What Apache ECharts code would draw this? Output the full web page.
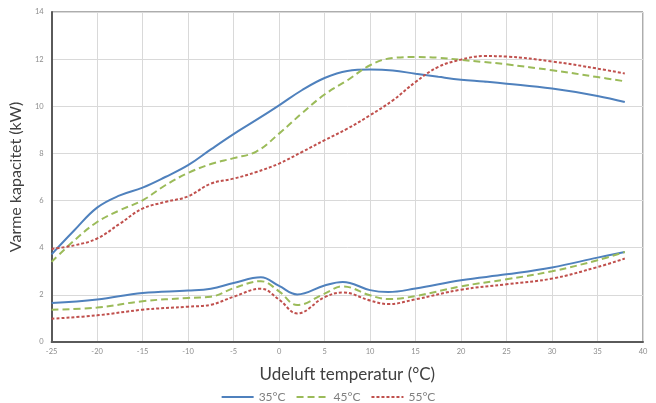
<!DOCTYPE html>
<html>
<head>
<meta charset="utf-8">
<script src="https://cdn.jsdelivr.net/npm/echarts@6/dist/echarts.min.js"></script>
<style>
  html, body { margin: 0; padding: 0; background: #fff; }
  #chart { width: 656px; height: 403px; }
</style>
</head>
<body>
<div id="chart"></div>
<script>
// outdoor temperature points (°C)
const upperTemps = [-25, -22.5, -20, -17.5, -15, -12.5, -10, -7.5, -5, -2.5, 0, 2.5, 5, 7.5, 10, 12.5, 15, 17.5, 20, 22.5, 25, 30, 35, 38]
const lowerTemps = [-25, -20, -15, -10, -7.5, -5, -2, 0, 2, 5, 7, 10, 12, 15, 20, 25, 30, 35, 38]

// max capacity (kW)
const max35 = [3.72, 4.74, 5.7, 6.22, 6.55, 7.0, 7.5, 8.17, 8.82, 9.42, 10.04, 10.68, 11.2, 11.5, 11.56, 11.52, 11.38, 11.25, 11.13, 11.05, 10.96, 10.75, 10.44, 10.18]
const max45 = [3.4, 4.31, 5.09, 5.59, 6.01, 6.65, 7.17, 7.55, 7.8, 8.08, 8.84, 9.7, 10.5, 11.1, 11.74, 12.05, 12.09, 12.06, 11.97, 11.88, 11.78, 11.53, 11.24, 11.06]
const max55 = [3.95, 4.1, 4.39, 5.02, 5.66, 5.94, 6.18, 6.72, 6.93, 7.21, 7.57, 8.06, 8.56, 9.05, 9.62, 10.25, 11.03, 11.67, 11.98, 12.13, 12.11, 11.9, 11.6, 11.39]

// min capacity (kW)
const min35 = [1.65, 1.8, 2.08, 2.18, 2.26, 2.5, 2.75, 2.38, 2.02, 2.4, 2.55, 2.2, 2.12, 2.27, 2.62, 2.87, 3.16, 3.58, 3.82]
const min45 = [1.37, 1.46, 1.73, 1.87, 1.92, 2.28, 2.58, 2.15, 1.57, 2.05, 2.36, 1.98, 1.82, 1.95, 2.36, 2.66, 3.0, 3.47, 3.82]
const min55 = [0.99, 1.13, 1.37, 1.5, 1.58, 1.92, 2.26, 1.8, 1.21, 1.9, 2.1, 1.76, 1.61, 1.81, 2.22, 2.45, 2.69, 3.18, 3.54]

const legendNames = ['35°C', '45°C', '55°C']

const font = 'Lato, "Open Sans", sans-serif'
const styles = {
  '35°C': {color: '#4F81BD', type: 'solid'},
  '45°C': {color: '#9BBB59', type: [7, 4]},
  '55°C': {color: '#C0504D', type: [3, 2]},
}

const pairs = (xs, ys) => xs.map((x, i) => [x, ys[i]])

const makeSeries = (name, xs, ys) => ({
  name,
  type: 'line',
  data: pairs(xs, ys),
  smooth: 0.4,
  showSymbol: false,
  symbol: 'none',
  color: styles[name].color,
  lineStyle: {width: 2, color: styles[name].color, type: styles[name].type},
  animation: false,
})

const chart = echarts.init(document.getElementById('chart'))
chart.setOption({
  textStyle: {fontFamily: font},
  grid: {
    left: 48,
    right: 13,
    top: 12,
    bottom: 61,
    show: true,
    borderColor: '#5a5a5a',
    borderWidth: 1,
  },
  legend: {
    data: legendNames,
    top: 386,
    left: 'center',
    itemWidth: 32,
    itemHeight: 10,
    itemGap: 10,
    itemStyle: {opacity: 0},
    textStyle: {color: '#7f7f7f', fontSize: 12, fontFamily: font},
  },
  xAxis: {
    type: 'value',
    min: -25,
    max: 40,
    interval: 5,
    name: 'Udeluft temperatur (°C)',
    nameLocation: 'middle',
    nameGap: 24,
    nameTextStyle: {color: '#404040', fontSize: 17, fontFamily: font},
    axisLine: {show: true, onZero: false, lineStyle: {color: '#5a5a5a', width: 2}},
    axisTick: {show: false},
    axisLabel: {color: '#8c8c8c', fontSize: 7.5, margin: 6},
    splitLine: {show: true, lineStyle: {color: '#d9d9d9', width: 1}},
  },
  yAxis: {
    type: 'value',
    min: 0,
    max: 14,
    interval: 2,
    name: 'Varme kapacitet (kW)',
    nameLocation: 'middle',
    nameGap: 23,
    nameTextStyle: {color: '#404040', fontSize: 16, fontFamily: font},
    axisLine: {show: true, onZero: false, lineStyle: {color: '#5a5a5a', width: 2}},
    axisTick: {show: false},
    axisLabel: {color: '#8c8c8c', fontSize: 7.5, margin: 8},
    splitLine: {show: true, lineStyle: {color: '#d9d9d9', width: 1}},
  },
  series: [
    makeSeries('35°C', upperTemps, max35),
    makeSeries('45°C', upperTemps, max45),
    makeSeries('55°C', upperTemps, max55),
    makeSeries('35°C', lowerTemps, min35),
    makeSeries('45°C', lowerTemps, min45),
    makeSeries('55°C', lowerTemps, min55),
  ],
})
</script>
</body>
</html>
